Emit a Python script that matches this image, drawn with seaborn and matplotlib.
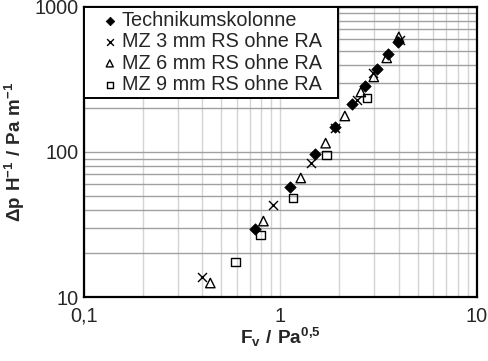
import matplotlib
matplotlib.use("Agg")
import matplotlib.pyplot as plt
import seaborn as sns
from matplotlib.ticker import LogLocator, NullFormatter

# Daten
tk_x = [0.74, 1.12, 1.50, 1.89, 2.31, 2.69, 3.10, 3.53, 3.96]
tk_y = [29.4, 57.4, 96.9, 148.7, 214, 285, 374, 474, 573]

mz3_x = [0.40, 0.92, 1.43, 1.89, 2.45, 2.96, 4.06]
mz3_y = [13.7, 43.1, 84.0, 146, 228, 351, 592]

mz6_x = [0.44, 0.82, 1.27, 1.70, 2.13, 2.57, 2.99, 3.48, 4.01]
mz6_y = [12.5, 33.4, 66.2, 115, 177, 259, 329, 445, 621]

mz9_x = [0.59, 0.79, 1.16, 1.72, 2.76]
mz9_y = [17.4, 26.8, 48.2, 95.4, 236]

labels = ["Technikumskolonne", "MZ 3 mm RS ohne RA",
          "MZ 6 mm RS ohne RA", "MZ 9 mm RS ohne RA"]
xtick_vals = [0.1, 1, 10]
xtick_labels = ["0,1", "1", "10"]
ytick_vals = [10, 100, 1000]
ytick_labels = ["10", "100", "1000"]

sns.set_style("white")
plt.rcParams['font.family'] = ['Liberation Sans', 'DejaVu Sans']
plt.rcParams['mathtext.fontset'] = 'custom'
plt.rcParams['mathtext.rm'] = 'Liberation Sans'
plt.rcParams['mathtext.bf'] = 'Liberation Sans:bold'

fig = plt.figure(figsize=(4.88, 3.61), dpi=100)
ax = fig.add_axes([0.172, 0.177, 0.805, 0.804])
ax.set_xscale('log')
ax.set_yscale('log')

# Gitter
ax.xaxis.set_minor_locator(LogLocator(base=10, subs=range(2, 10)))
ax.yaxis.set_minor_locator(LogLocator(base=10, subs=range(2, 10)))
ax.xaxis.set_minor_formatter(NullFormatter())
ax.yaxis.set_minor_formatter(NullFormatter())
ax.grid(True, which='both', axis='x', color='#d4d4d4', linewidth=1)
ax.grid(True, which='both', axis='y', color='#a0a0a0', linewidth=1)
ax.set_axisbelow(True)

ms = 34
sns.scatterplot(x=tk_x, y=tk_y, ax=ax, marker='D', color='black', s=ms,
                edgecolor='black', linewidth=0.5, label=labels[0], zorder=4)
sns.scatterplot(x=mz3_x, y=mz3_y, ax=ax, marker='x', color='black', s=ms + 8,
                linewidth=1, label=labels[1], zorder=3)
sns.scatterplot(x=mz6_x, y=mz6_y, ax=ax, marker='^', s=ms + 12,
                facecolors='none', edgecolors='black', linewidth=1,
                label=labels[2], zorder=3)
sns.scatterplot(x=mz9_x, y=mz9_y, ax=ax, marker='s', s=ms + 4,
                facecolors='none', edgecolors='black', linewidth=1,
                label=labels[3], zorder=3)

ax.set_xlim(0.1, 10)
ax.set_ylim(10, 1000)
ax.set_xticks(xtick_vals, xtick_labels)
ax.set_yticks(ytick_vals, ytick_labels)
ax.tick_params(axis='both', which='both', direction='in', labelsize=14.3,
               color='black')
ax.tick_params(axis='both', which='major', length=4)
ax.tick_params(axis='both', which='minor', length=3)
ax.tick_params(axis='x', pad=7)
for sp in ax.spines.values():
    sp.set_color('black')
    sp.set_linewidth(1.6)

ax.set_xlabel(r'$\mathbf{F_v\ /\ Pa^{0{,}5}}$', fontsize=13.7, labelpad=0)
ax.set_ylabel(r'$\mathbf{\Delta p\ H^{-1}\ /\ Pa\ m^{-1}}$', fontsize=13.5,
              labelpad=6)

leg = ax.legend(loc='upper left', bbox_to_anchor=(0, 1, 0.646, 0),
                mode='expand', borderaxespad=0, fontsize=14.3,
                handletextpad=-0.5, handlelength=2.2, borderpad=0.2,
                labelspacing=0.12, fancybox=False, framealpha=1,
                edgecolor='black', markerscale=0.75)
leg.get_frame().set_linewidth(1.4)

fig.savefig('out.png', dpi=100)
